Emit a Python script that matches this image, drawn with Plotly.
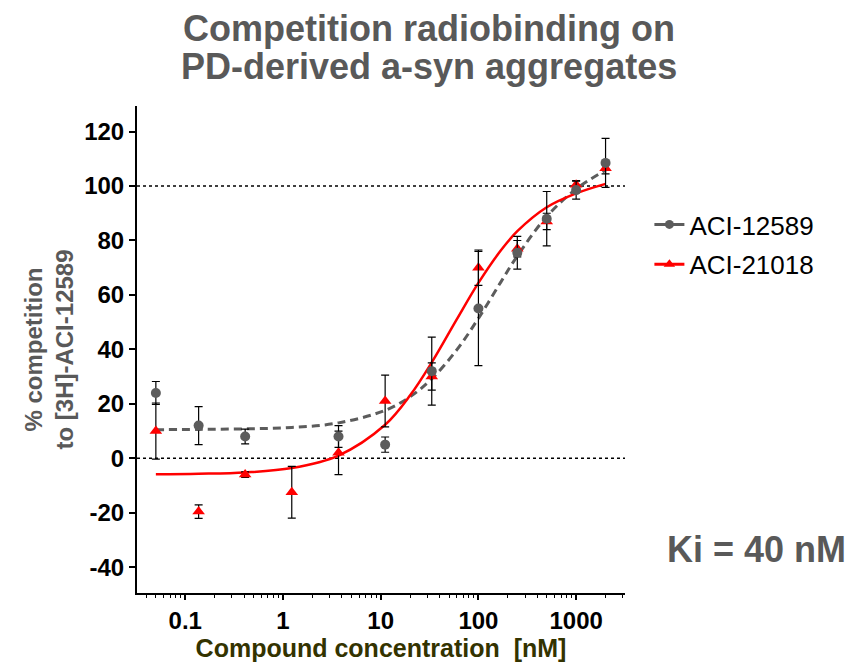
import plotly.graph_objects as go

# ---------------- data ----------------
conc_nM = [0.05, 0.137, 0.41, 1.23, 3.7, 11.1, 33.3, 100, 250, 500, 1000, 2000]

aci12589_mean = [24, 12, 8, None, 8, 5, 32, 55, 75.5, 88, 98.5, 108.5]
aci12589_err = [4.2, 7, 2.7, None, 4, 2.8, 12.5, 21, 6, 10, 3.3, 9]

aci21018_mean = [10, -19.6, -6, -12.5, 2, 21, 30, 70, 77, 87, 100.5, 106.5]
aci21018_err = [10.3, 2.5, 1, 9.5, 8, 9.5, 5, 6.5, 3, 3, 1.5, 2]

# fitted curves
fit_conc = [0.05, 0.137, 0.41, 1.23, 3.7, 11.1, 20, 33.3, 60, 100, 170, 250, 500, 1000, 2000]
aci12589_fit = [10.5, 10.6, 10.8, 11.3, 13.0, 17.6, 22.6, 29.2, 39.8, 51.4, 64.8, 74.3, 88.8, 98.9, 105.8]
aci21018_fit = [-5.9, -5.7, -5.2, -3.6, 1.0, 12.3, 23.1, 35.2, 51.0, 64.4, 76.4, 83.4, 92.2, 97.3, 100.8]

ref_levels = [0, 100]

x_tickvals = [0.1, 1, 10, 100, 1000]
x_ticktext = ["0.1", "1", "10", "100", "1000"]
x_minor_vals = [d * 10.0 ** e for e in range(-2, 4) for d in range(2, 10)]

y_tickvals = [-40, -20, 0, 20, 40, 60, 80, 100, 120]
y_ticktext = ["-40", "-20", "0", "20", "40", "60", "80", "100", "120"]

series_names = ["ACI-12589", "ACI-21018"]
title_lines = ["Competition radiobinding on", "PD-derived a-syn aggregates"]
ki_text = "Ki = 40 nM"

# ---------------- styles ----------------
GRAY = "#5c5c5c"
RED = "#ff0000"
FONT = "Liberation Sans, Arial, sans-serif"

fig = go.Figure()

# fitted curves
fig.add_trace(go.Scatter(
    x=fit_conc, y=aci12589_fit, mode="lines",
    line=dict(color=GRAY, width=3, dash="8px,5px", shape="spline", smoothing=1),
    showlegend=False, hoverinfo="skip"))
fig.add_trace(go.Scatter(
    x=fit_conc, y=aci21018_fit, mode="lines",
    line=dict(color=RED, width=2.5, shape="spline", smoothing=1),
    showlegend=False, hoverinfo="skip"))

# data points with error bars
fig.add_trace(go.Scatter(
    x=conc_nM, y=aci21018_mean, mode="markers",
    marker=dict(symbol="triangle-up", size=11, color=RED),
    error_y=dict(type="data", array=aci21018_err, visible=True,
                 color="black", thickness=1.2, width=4),
    showlegend=False))
fig.add_trace(go.Scatter(
    x=conc_nM, y=aci12589_mean, mode="markers",
    marker=dict(symbol="circle", size=10, color=GRAY),
    error_y=dict(type="data", array=aci12589_err, visible=True,
                 color="black", thickness=1.2, width=4),
    showlegend=False))

# legend entries
fig.add_trace(go.Scatter(
    x=[None], y=[None], mode="lines+markers", name=series_names[0],
    line=dict(color=GRAY, width=3), marker=dict(symbol="circle", size=9, color=GRAY),
    legend="legend"))
fig.add_trace(go.Scatter(
    x=[None], y=[None], mode="lines+markers", name=series_names[1],
    line=dict(color=RED, width=3), marker=dict(symbol="triangle-up", size=10, color=RED),
    legend="legend2"))

# dotted reference lines
for lvl in ref_levels:
    fig.add_shape(type="line", xref="paper", yref="y", x0=0, x1=1, y0=lvl, y1=lvl,
                  line=dict(color="black", width=1.5, dash="dot"), layer="below")

# title lines
fig.add_annotation(text="<b>%s</b>" % title_lines[0], xref="paper", yref="paper",
                   x=0.598, y=1.16, xanchor="center", yanchor="middle", showarrow=False,
                   font=dict(family=FONT, size=36, color="#595959"))
fig.add_annotation(text="<b>%s</b>" % title_lines[1], xref="paper", yref="paper",
                   x=0.598, y=1.081, xanchor="center", yanchor="middle", showarrow=False,
                   font=dict(family=FONT, size=36, color="#595959"))

# Ki annotation
fig.add_annotation(text="<b>%s</b>" % ki_text, xref="paper", yref="paper",
                   x=1.27, y=0.09, xanchor="center", yanchor="middle", showarrow=False,
                   font=dict(family=FONT, size=36, color="#595959"))

legend_common = dict(xanchor="left", yanchor="middle", bgcolor="rgba(0,0,0,0)",
                     font=dict(family=FONT, size=26, color="black"),
                     itemwidth=30, borderwidth=0)

fig.update_layout(
    width=856, height=668, autosize=False,
    margin=dict(l=137, r=231, t=106, b=75, autoexpand=False),
    plot_bgcolor="white", paper_bgcolor="white",
    font=dict(family=FONT, color="black"),
    legend=dict(x=1.05, y=0.7566, **legend_common),
    legend2=dict(x=1.05, y=0.6748, **legend_common),
    xaxis=dict(
        type="log", range=[-1.494, 3.5], automargin=False,
        tickmode="array", tickvals=x_tickvals, ticktext=x_ticktext,
        ticks="outside", ticklen=5, tickwidth=1.5, tickcolor="black",
        showline=True, linecolor="black", linewidth=2,
        showgrid=False, zeroline=False,
        tickfont=dict(family=FONT, size=24, color="black", weight="bold"),
        minor=dict(tickmode="array", tickvals=x_minor_vals, ticks="outside",
                   ticklen=3, tickwidth=1, tickcolor="black", showgrid=False),
        title=dict(text="Compound concentration \u00a0[nM]", standoff=2,
                   font=dict(family=FONT, size=25, color="#333300", weight="bold")),
    ),
    yaxis=dict(
        range=[-49.5, 129.4], automargin=False,
        tickmode="array", tickvals=y_tickvals, ticktext=y_ticktext,
        ticks="outside", ticklen=6, tickwidth=1.5, tickcolor="black",
        showline=True, linecolor="black", linewidth=2,
        showgrid=False, zeroline=False,
        tickfont=dict(family=FONT, size=24, color="black", weight="bold"),
        title=dict(text="% competition<br>to [3H]-ACI-12589", standoff=4,
                   font=dict(family=FONT, size=24, color="#595959", weight="bold")),
    ),
)

fig.write_html("out.html", config={"displayModeBar": False},
               post_script="document.body.style.margin='0px';")
